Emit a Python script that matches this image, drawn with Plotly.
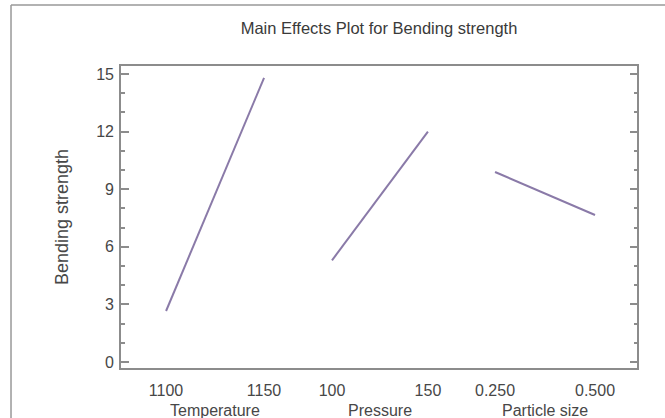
import plotly.graph_objects as go

# ---- data ----
factors = ["Temperature", "Pressure", "Particle size"]
temperature_levels = [1100, 1150]
pressure_levels = [100, 150]
particle_levels = [0.250, 0.500]
temperature_means = [2.66, 14.8]
pressure_means = [5.3, 12.0]
particle_means = [9.9, 7.66]
temperature_ticks = ["1100", "1150"]
pressure_ticks = ["100", "150"]
particle_ticks = ["0.250", "0.500"]

LINE_COLOR = "#8a7aa8"
FRAME_COLOR = "#8c8c8c"
TEXT_COLOR = "#474747"
FONT = "Liberation Sans, Arial, sans-serif"

fig = go.Figure()
levels = [temperature_levels, pressure_levels, particle_levels]
means = [temperature_means, pressure_means, particle_means]
ticks = [temperature_ticks, pressure_ticks, particle_ticks]
xnames = ["x", "x2", "x3"]
for i in range(3):
    fig.add_trace(go.Scatter(x=levels[i], y=means[i], mode="lines",
                             line=dict(color=LINE_COLOR, width=2),
                             xaxis=xnames[i], yaxis="y", showlegend=False,
                             hoverinfo="x+y"))

ranges = [[1076.5, 1164.6], [79.5, 169.5], [0.1757, 0.6075]]
domains = [[0, 1/3], [1/3, 2/3], [2/3, 1]]
axis_common = dict(showline=False, showgrid=False, zeroline=False, ticks="",
                   tickfont=dict(family=FONT, size=16, color=TEXT_COLOR),
                   ticklabelstandoff=10, fixedrange=True)
layout_axes = {}
for i in range(3):
    key = "xaxis" if i == 0 else f"xaxis{i+1}"
    ax = dict(axis_common, domain=domains[i], range=ranges[i],
              tickmode="array", tickvals=levels[i], ticktext=ticks[i],
              anchor="y")
    layout_axes[key] = ax

y_range = [-0.36, 15.47]
ytick_style = dict(tickmode="linear", tick0=0, dtick=3,
                   ticks="inside", ticklen=8, tickwidth=1.5, tickcolor=FRAME_COLOR,
                   minor=dict(dtick=1, ticks="inside", ticklen=4,
                              tickcolor=FRAME_COLOR, tickwidth=1.5),
                   showline=False, showgrid=False, zeroline=False,
                   fixedrange=True)

fig.update_layout(**layout_axes)
fig.update_layout(
    width=665, height=418,
    margin=dict(l=120, r=27, t=65, b=49),
    paper_bgcolor="white", plot_bgcolor="white",
    title=dict(text="Main Effects Plot for Bending strength",
               font=dict(family=FONT, size=16.5, color="#3a3a3a"),
               x=(120 + 638) / 2 / 665, xanchor="center",
               y=1 - 28 / 418, yanchor="middle", yref="container"),
    yaxis=dict(ytick_style, range=y_range, anchor="free", position=0,
               side="left",
               tickfont=dict(family=FONT, size=16, color=TEXT_COLOR),
               ticklabelstandoff=6),
    yaxis2=dict(ytick_style, range=y_range, anchor="free", position=1,
                side="right", overlaying="y", showticklabels=False),
)
# invisible trace to activate right-hand mirror axis
fig.add_trace(go.Scatter(x=[None], y=[None], xaxis="x3", yaxis="y2",
                         showlegend=False, hoverinfo="skip"))

# frame of the plot area
fig.add_shape(type="rect", xref="paper", yref="paper", x0=0, x1=1, y0=0, y1=1,
              line=dict(color=FRAME_COLOR, width=2), layer="above")
# outer border (top and left edges of picture frame)
fig.add_shape(type="line", xref="paper", yref="paper", x0=-0.2104, x1=-0.2104,
              y0=-0.2, y1=1.197, line=dict(color="#999999", width=1.5))
fig.add_shape(type="line", xref="paper", yref="paper", x0=-0.2104, x1=1.1,
              y0=1.197, y1=1.197, line=dict(color="#999999", width=1.5))

# y axis title
fig.add_annotation(text="Bending strength", xref="paper", yref="paper",
                   x=-(120 - 62) / 518, y=0.5, textangle=-90, showarrow=False,
                   xanchor="center", yanchor="middle",
                   font=dict(family=FONT, size=18, color=TEXT_COLOR))
# factor names
for i in range(3):
    fig.add_annotation(text=factors[i], xref=xnames[i], yref="paper",
                       x=sum(levels[i]) / len(levels[i]), y=0, yshift=-41,
                       showarrow=False, xanchor="center", yanchor="middle",
                       font=dict(family=FONT, size=16, color=TEXT_COLOR))

fig.write_html("out.html")
